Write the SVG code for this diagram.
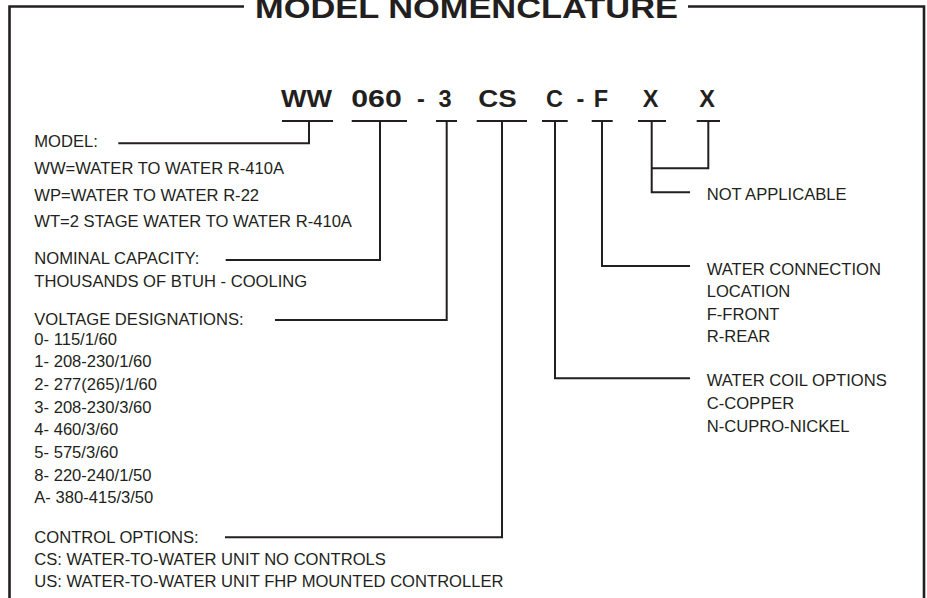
<svg xmlns="http://www.w3.org/2000/svg" width="927" height="598" viewBox="0 0 927 598">
<style>
.ln{fill:none;stroke:#231f20;stroke-width:2;stroke-linejoin:miter;stroke-linecap:butt}
.fr{fill:none;stroke:#231f20;stroke-width:2.6}
.t{font-family:"Liberation Sans",Arial,sans-serif;font-size:16.6px;fill:#231f20}
.c{font-family:"Liberation Sans",Arial,sans-serif;font-size:23.5px;font-weight:bold;fill:#231f20;text-anchor:middle}
.ttl{font-family:"Liberation Sans",Arial,sans-serif;font-size:30px;font-weight:bold;fill:#231f20}
</style>
<rect width="927" height="598" fill="#ffffff"/>
<g id="frame">
<path class="fr" d="M244 6.5H9.5V598"/>
<path class="fr" d="M688 6.5H924V598"/>
<text class="ttl" x="255" y="17.5" textLength="423" lengthAdjust="spacingAndGlyphs">MODEL NOMENCLATURE</text>
</g>
<g id="code">
<text class="c" x="306.5" y="107.3" textLength="51" lengthAdjust="spacingAndGlyphs">WW</text>
<text class="c" x="376.5" y="107.3" textLength="50.5" lengthAdjust="spacingAndGlyphs">060</text>
<text class="c" x="421" y="107.3">-</text>
<text class="c" x="445" y="107.3">3</text>
<text class="c" x="497.5" y="107.3" textLength="38.5" lengthAdjust="spacingAndGlyphs">CS</text>
<text class="c" x="554.5" y="107.3">C</text>
<text class="c" x="580.5" y="107.3">-</text>
<text class="c" x="601" y="107.3">F</text>
<text class="c" x="650.5" y="107.3">X</text>
<text class="c" x="707" y="107.3">X</text>
</g>
<g id="connectors">
<path class="ln" d="M282 121H333M309 121V143.3H118.3"/>
<path class="ln" d="M351.7 121H407M380 121V260H225.7"/>
<path class="ln" d="M436 121H457M446.7 121V320H275"/>
<path class="ln" d="M476.7 121H527M502 121V537.3H225"/>
<path class="ln" d="M542 121H567.7M555 121V378.3H690"/>
<path class="ln" d="M591.7 121H612.7M602 121V266H690"/>
<path class="ln" d="M638 121H666M651.7 121V192.3H690"/>
<path class="ln" d="M696.7 121H720M708.3 121V168.3H651.7"/>
</g>
<g id="model">
<text class="t" x="34.3" y="147.3">MODEL:</text>
<text class="t" x="34.3" y="174.3">WW=WATER TO WATER R-410A</text>
<text class="t" x="34.3" y="201">WP=WATER TO WATER R-22</text>
<text class="t" x="34.3" y="227.3">WT=2 STAGE WATER TO WATER R-410A</text>
</g>
<g id="capacity">
<text class="t" x="34.3" y="264.3">NOMINAL CAPACITY:</text>
<text class="t" x="34.3" y="286.7">THOUSANDS OF BTUH - COOLING</text>
</g>
<g id="voltage">
<text class="t" x="34.3" y="325">VOLTAGE DESIGNATIONS:</text>
<text class="t" x="34.3" y="344.5">0- 115/1/60</text>
<text class="t" x="34.3" y="367.2">1- 208-230/1/60</text>
<text class="t" x="34.3" y="389.9">2- 277(265)/1/60</text>
<text class="t" x="34.3" y="412.6">3- 208-230/3/60</text>
<text class="t" x="34.3" y="435.3">4- 460/3/60</text>
<text class="t" x="34.3" y="458">5- 575/3/60</text>
<text class="t" x="34.3" y="480.7">8- 220-240/1/50</text>
<text class="t" x="34.3" y="503.4">A- 380-415/3/50</text>
</g>
<g id="control">
<text class="t" x="34.3" y="543">CONTROL OPTIONS:</text>
<text class="t" x="34.3" y="565">CS: WATER-TO-WATER UNIT NO CONTROLS</text>
<text class="t" x="34.3" y="587">US: WATER-TO-WATER UNIT FHP MOUNTED CONTROLLER</text>
</g>
<g id="not-applicable">
<text class="t" x="706.7" y="200">NOT APPLICABLE</text>
</g>
<g id="water-connection">
<text class="t" x="706.7" y="275">WATER CONNECTION</text>
<text class="t" x="706.7" y="297.3">LOCATION</text>
<text class="t" x="706.7" y="319.5">F-FRONT</text>
<text class="t" x="706.7" y="341.7">R-REAR</text>
</g>
<g id="water-coil">
<text class="t" x="706.7" y="386">WATER COIL OPTIONS</text>
<text class="t" x="706.7" y="409">C-COPPER</text>
<text class="t" x="706.7" y="431.7">N-CUPRO-NICKEL</text>
</g>
</svg>
